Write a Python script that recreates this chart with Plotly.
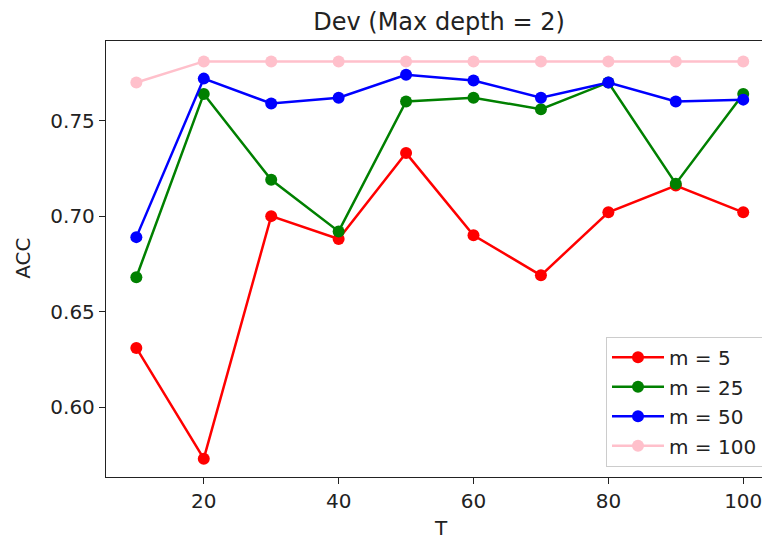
import plotly.graph_objects as go

T = [10, 20, 30, 40, 50, 60, 70, 80, 90, 100]
acc_m5 = [0.631, 0.573, 0.700, 0.688, 0.733, 0.690, 0.669, 0.702, 0.716, 0.702]
acc_m25 = [0.668, 0.764, 0.719, 0.692, 0.760, 0.762, 0.756, 0.770, 0.717, 0.764]
acc_m50 = [0.689, 0.772, 0.759, 0.762, 0.774, 0.771, 0.762, 0.770, 0.760, 0.761]
acc_m100 = [0.770, 0.781, 0.781, 0.781, 0.781, 0.781, 0.781, 0.781, 0.781, 0.781]
series_names = ["m = 5", "m = 25", "m = 50", "m = 100"]
series_colors = ["#ff0000", "#008000", "#0000ff", "#ffc0cb"]
x_ticks = [20, 40, 60, 80, 100]
y_ticks = [0.60, 0.65, 0.70, 0.75]

FONT = "DejaVu Sans"
TXT = "#222"
# page body has an 8px margin, so the figure is laid out 8px smaller
W, H = 762, 534
L, T_M, B = 98, 33, 64.7
plot_w = W - L
plot_h = H - T_M - B

fig = go.Figure()
for name, vals, col in zip(series_names, [acc_m5, acc_m25, acc_m50, acc_m100], series_colors):
    fig.add_trace(go.Scatter(
        x=T, y=vals, mode="lines+markers", name=name, legendgroup=name,
        line=dict(color=col, width=2.5),
        marker=dict(color=col, size=12),
    ))

fig.update_layout(
    width=W, height=H,
    margin=dict(l=L, r=0, t=T_M, b=B),
    paper_bgcolor="white", plot_bgcolor="white",
    font=dict(family=FONT, size=20, color=TXT),
    title=dict(text="Dev (Max depth = 2)", x=431 / W, xanchor="center",
               y=1 - 14 / H, yanchor="middle", font=dict(size=24, color=TXT)),
    showlegend=True,
    legend=dict(x=(755 - L) / plot_w, y=(H - B - 459) / plot_h, xanchor="right", yanchor="bottom",
                bgcolor="rgba(255,255,255,0.8)", bordercolor="#cccccc", borderwidth=1,
                tracegroupgap=0.5, itemwidth=52, font=dict(size=20, color=TXT)),
    annotations=[
        dict(text="T", xref="paper", yref="paper", x=(433 - L) / plot_w,
             y=-(520 - (H - B)) / plot_h, xanchor="center", yanchor="middle",
             showarrow=False, font=dict(size=20, color=TXT)),
        dict(text="ACC", xref="paper", yref="paper", x=(15 - L) / plot_w,
             y=((H - B) - 251) / plot_h, xanchor="center", yanchor="middle",
             textangle=-90, showarrow=False, font=dict(size=20, color=TXT)),
    ],
)
fig.update_xaxes(
    range=[5.5, 103.97], tickvals=x_ticks, ticks="outside", ticklen=6, tickwidth=1.3,
    tickcolor=TXT, showgrid=False, zeroline=False, showline=True, linecolor=TXT,
    linewidth=1.3, mirror=True, automargin=False,
)
fig.update_yaxes(
    range=[0.5634, 0.7917], tickvals=y_ticks, tickformat=".2f", ticks="outside", ticklen=6,
    tickwidth=1.3, tickcolor=TXT, showgrid=False, zeroline=False, showline=True,
    linecolor=TXT, linewidth=1.3, mirror=False, automargin=False,
)

fig.write_html("out.html")
